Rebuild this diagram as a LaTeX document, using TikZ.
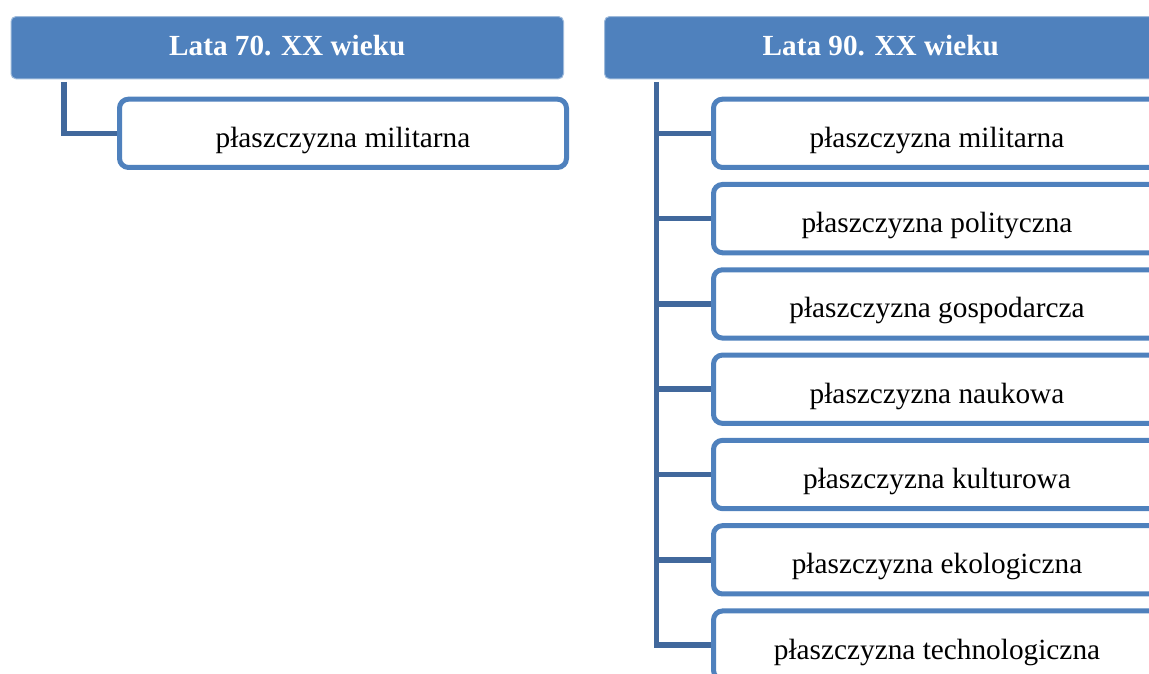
\documentclass[tikz,border=0pt]{standalone}
\usepackage{fontspec}
\setmainfont{Liberation Serif}
\definecolor{hdrblue}{HTML}{4F81BD}
\definecolor{boxblue}{HTML}{4F81BD}
\definecolor{connblue}{HTML}{41689C}
\tikzset{
  hdr/.style={fill=hdrblue, draw=hdrblue!55!white, line width=1pt, rounded corners=5pt,
    minimum width=552.5pt, minimum height=62.3pt, inner sep=0pt,
    text height=16pt, text depth=0pt,
    text=white, font=\fontsize{29.2pt}{34pt}\selectfont\bfseries},
  child/.style={fill=white, draw=boxblue, line width=5pt, rounded corners=9pt,
    minimum width=447pt, minimum height=68.3pt, inner sep=0pt,
    text height=28pt, text depth=0pt,
    font=\fontsize{29.3pt}{34pt}\selectfont},
  conn/.style={draw=connblue, line width=5.5pt}
}
\begin{document}
\begin{tikzpicture}[x=1pt,y=-1pt]
\useasboundingbox (0,0) rectangle (1149,673);
\clip (0,0) rectangle (1149,673);
% left column
\node[hdr] (hl) at (287.25,47.65) {Lata 70. XX wieku};
\node[child] (cl) at (343,133.3) {płaszczyzna militarna};
\draw[conn] ([xshift=53.5pt,yshift=-2.5pt]hl.south west) |- (cl.west);
% right column
\node[hdr] (hr) at (880.75,47.65) {Lata 90. XX wieku};
\node[child] (c1) at (937,133.3) {płaszczyzna militarna};
\node[child] (c2) at (937,218.6) {płaszczyzna polityczna};
\node[child] (c3) at (937,303.9) {płaszczyzna gospodarcza};
\node[child] (c4) at (937,389.2) {płaszczyzna naukowa};
\node[child] (c5) at (937,474.5) {płaszczyzna kulturowa};
\node[child] (c6) at (937,559.8) {płaszczyzna ekologiczna};
\node[child] (c7) at (937,645.1) {płaszczyzna technologiczna};
\coordinate (trunk) at ([xshift=52.5pt,yshift=-2.5pt]hr.south west);
\draw[conn] (trunk) |- (c7.west);
\foreach \n in {c1,c2,c3,c4,c5,c6}{
  \draw[conn] (trunk |- \n.west) -- (\n.west);
}
\end{tikzpicture}
\end{document}
